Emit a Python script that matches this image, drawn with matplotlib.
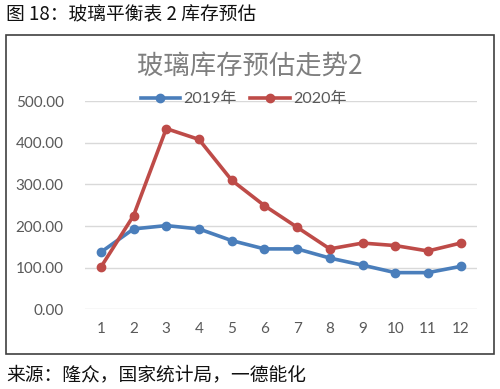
import matplotlib
matplotlib.use("Agg")
import matplotlib.pyplot as plt
from matplotlib.patches import Rectangle

plt.rcParams['font.family'] = ['Noto Sans CJK SC', 'DejaVu Sans']

# Data
months = [1, 2, 3, 4, 5, 6, 7, 8, 9, 10, 11, 12]
stock_2019 = [137, 193, 201, 193, 165, 145, 145, 123, 106, 88, 88, 103]
stock_2020 = [101, 225, 434, 408, 310, 249, 197, 145, 159, 153, 140, 159]
yticks = [0, 100, 200, 300, 400, 500]

blue = '#4A7EBB'
red = '#BE4B48'
gray_txt = '#595959'
num_font = ['Lato', 'Noto Sans CJK SC']

fig = plt.figure(figsize=(5.0, 3.89), dpi=100)
ax = fig.add_axes([0.169, 0.205, 0.785, 0.535])

# outer chart frame
fig.patches.append(Rectangle((0.012, 0.09), 0.976, 0.82, transform=fig.transFigure,
                             fill=False, edgecolor='#404040', linewidth=1.2))

ax.plot(months, stock_2019, color=blue, lw=2.6, marker='o', ms=6, label='2019年')
ax.plot(months, stock_2020, color=red, lw=2.6, marker='o', ms=6, label='2020年')

ax.set_xlim(0.5, 12.5)
ax.set_ylim(0, 500)
ax.set_xticks(months)
ax.set_yticks(yticks)
ax.set_yticklabels([f'{v:.2f}' for v in yticks])
ax.grid(axis='y', color='#D9D9D9', lw=1)
ax.set_axisbelow(True)
for s in ax.spines.values():
    s.set_visible(False)
ax.tick_params(length=0, labelsize=11, labelcolor=gray_txt)
ax.tick_params(axis='y', pad=15)
ax.tick_params(axis='x', pad=9)
for lab in ax.get_xticklabels() + ax.get_yticklabels():
    lab.set_family(num_font)

# legend sits a bit left of the plot centre, as in the source image
leg = ax.legend(loc='center', bbox_to_anchor=(0.405, 1.01), ncol=2, frameon=False,
                handlelength=2.5, columnspacing=0.8, handletextpad=0.2,
                prop={'family': num_font, 'size': 11.5})
for t in leg.get_texts():
    t.set_color(gray_txt)

fig.text(0.5, 0.83, '玻璃库存预估走势2', ha='center', va='center', fontsize=19, color='#7F7F7F')
fig.text(0.012, 0.962, '图 18：玻璃平衡表 2 库存预估', ha='left', va='center', fontsize=13.5,
         color='#111111', fontweight='medium')
fig.text(0.012, 0.036, '来源：隆众，国家统计局，一德能化', ha='left', va='center', fontsize=13.5,
         color='#111111', fontweight='medium')

fig.savefig('out.png', dpi=100)
